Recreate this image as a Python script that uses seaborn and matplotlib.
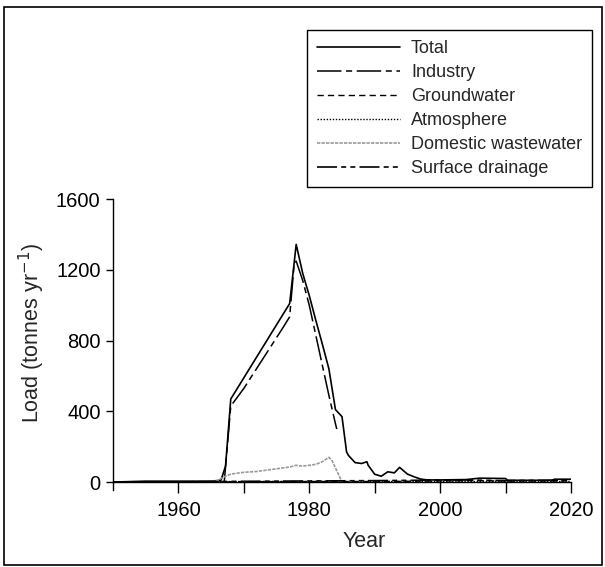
import matplotlib
matplotlib.use("Agg")
import matplotlib.pyplot as plt
import matplotlib.patches as mpatches
import seaborn as sns
import pandas as pd

# ---- data ----
total_years = [1950, 1955, 1960, 1965, 1966.5, 1967.2, 1968, 1970, 1972, 1974, 1976, 1977,
               1978, 1979, 1980, 1981, 1982, 1983, 1984, 1985, 1985.7, 1986, 1987, 1988,
               1988.8, 1989, 1990, 1991, 1992, 1993, 1993.8, 1995, 1996, 1997, 1998, 2000,
               2004, 2006, 2010, 2010.3, 2017, 2017.5, 2020]
total_vals = [0, 5, 5, 5, 10, 90, 470, 590, 710, 830, 950, 1010,
              1345, 1180, 1055, 915, 780, 640, 410, 370, 170, 150, 110, 105,
              115, 95, 44, 33, 58, 52, 83, 45, 30, 17, 12, 12,
              14, 22, 20, 10, 10, 16, 16]

industry_years = [1967, 1968, 1970, 1972, 1974, 1976, 1977, 1977.7, 1978, 1979, 1980,
                  1981, 1982, 1983, 1984, 1984.2]
industry_vals = [0, 430, 530, 645, 760, 875, 935, 1240, 1250, 1140, 1000,
                 830, 660, 490, 330, 300]

groundwater_years = [1950, 1965, 1970, 1980, 1990, 1997, 2005, 2010, 2020]
groundwater_vals = [0, 0, 2, 3, 3, 5, 8, 6, 6]

atmosphere_years = [1950, 1960, 1970, 1980, 1990, 2000, 2010, 2020]
atmosphere_vals = [2, 2, 3, 3, 3, 3, 3, 3]

domestic_years = [1965, 1966, 1967, 1968, 1970, 1972, 1974, 1976, 1977, 1978, 1979,
                  1980, 1981, 1982, 1983, 1983.5, 1984, 1984.5, 1985]
domestic_vals = [0, 10, 30, 45, 55, 60, 70, 80, 85, 95, 90,
                 95, 100, 115, 140, 120, 80, 40, 0]

surface_years = [1950, 1960, 1970, 1980, 1990, 1997, 2004, 2010, 2017, 2020]
surface_vals = [0, 1, 4, 6, 8, 10, 12, 8, 10, 12]

labels = ["Total", "Industry", "Groundwater", "Atmosphere",
          "Domestic wastewater", "Surface drainage"]

# ---- style ----
sns.set_theme(style="ticks")
plt.rcParams["font.family"] = ["Liberation Sans", "DejaVu Sans"]
plt.rcParams["font.size"] = 13

fig = plt.figure(figsize=(6.05, 5.67), dpi=100)
ax = fig.add_axes([113 / 605, 1 - 490 / 567, (571 - 113) / 605, (490 - 199.3) / 567])

series = [
    (total_years, total_vals, "black", "-", 1.2),
    (industry_years, industry_vals, "black", (0, (16, 3, 4, 3)), 1.1),
    (groundwater_years, groundwater_vals, "black", (0, (4.5, 3)), 1.0),
    (atmosphere_years, atmosphere_vals, "black", (0, (1, 1.2)), 1.0),
    (domestic_years, domestic_vals, "#9a9a9a", (0, (2, 0.7)), 1.2),
    (surface_years, surface_vals, "black", (0, (12, 2.5, 3, 2.5, 3, 2.5)), 1.2),
]

handles = []
for (xs, ys, col, ls, lw), lab in zip(series, labels):
    df = pd.DataFrame({"Year": xs, "Load": ys})
    sns.lineplot(data=df, x="Year", y="Load", ax=ax, color=col, linewidth=lw,
                 estimator=None, sort=False)
    line = ax.lines[-1]
    line.set_linestyle(ls)
    line.set_label(lab)
    handles.append(line)

ax.set_xlim(1950, 2020)
ax.set_ylim(-45, 1600)
ax.set_xticks([1960, 1980, 2000, 2020])
ax.set_xticks([1970, 1990, 2010], minor=True)
ax.set_yticks([0, 400, 800, 1200, 1600])
ax.spines["top"].set_visible(False)
ax.spines["right"].set_visible(False)
ax.spines["bottom"].set_position(("data", 0))
for s in ("left", "bottom"):
    ax.spines[s].set_linewidth(1.0)
    ax.spines[s].set_color("black")
ax.tick_params(axis="x", which="both", direction="out", length=8, width=1.0, pad=6,
               colors="black", labelsize=14.5)
ax.tick_params(axis="y", direction="out", length=5, width=1.0, pad=4,
               colors="black", labelsize=14.5)
ax.set_xlabel("Year", fontsize=15.5)
ax.set_ylabel("Load (tonnes yr$^{-1}$)", fontsize=15.5)
ax.xaxis.set_label_coords((364 - 113) / 458, -0.14)
ax.yaxis.set_label_coords(-0.145, 0.54)

leg = ax.legend(handles=handles, labels=labels, loc="upper right",
                bbox_to_anchor=(592 / 605, 1 - 30 / 567), bbox_transform=fig.transFigure,
                borderaxespad=0, frameon=True, fancybox=False, framealpha=1,
                edgecolor="black", handlelength=4.6, handletextpad=0.6,
                labelspacing=0.39, borderpad=0.55, fontsize=13)
leg.get_frame().set_linewidth(1.0)

# figure border
fig.patches.append(mpatches.Rectangle((4 / 605, 2 / 567), 598 / 605, 558 / 567,
                                      transform=fig.transFigure, fill=False,
                                      edgecolor="black", linewidth=1.2))

fig.savefig("out.png", dpi=100)
